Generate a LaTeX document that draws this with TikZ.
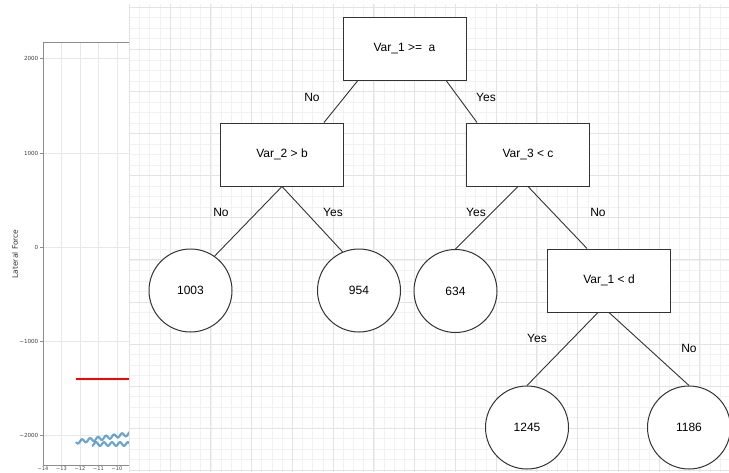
\documentclass[tikz,border=0pt]{standalone}
\usepackage{fontspec}
\setmainfont{Liberation Sans}
\newfontfamily\plotfont{DejaVu Sans}
\usepackage{xcolor}
\usetikzlibrary{positioning,calc}
\definecolor{edgegray}{HTML}{333333}
\definecolor{mplblue}{HTML}{1F77B4}

\begin{document}
\begin{tikzpicture}[
  x=1pt, y=-1pt,
  box/.style={draw=edgegray, line width=1pt, fill=white, minimum width=123pt, minimum height=63pt, font=\fontsize{12}{14}\selectfont},
  leaf/.style={draw=edgegray, line width=1pt, fill=white, circle, minimum size=83pt, inner sep=0pt, font=\fontsize{12}{14}\selectfont},
  branch/.style={draw=edgegray, line width=0.9pt},
  lbl/.style={inner sep=0pt, font=\fontsize{12}{14}\selectfont},
  minorgrid/.style={draw=black!5, line width=0.6pt},
  majorgrid/.style={draw=black!11, line width=0.7pt},
  axisgrid/.style={draw=black!9, line width=0.6pt},
  spine/.style={draw=black!45, line width=0.7pt},
  ticklbl/.style={font=\plotfont\fontsize{5.6}{6}\selectfont, text=black!75, inner sep=1pt}
]
\useasboundingbox (0,0) rectangle (729,472);

\foreach \gx in {43,61.5,80,98.5,117} \draw[axisgrid] (\gx,42) -- (\gx,465);
\foreach \gy in {58,153,247,341,435} \draw[axisgrid] (43,\gy) -- (130,\gy);
\draw[spine] (130,42) -- (43,42) -- (43,465) -- (130,465);
\foreach \gy/\t [count=\i] in {58/2000,153/1000,247/0,341/−1000,435/−2000} {
  \draw[spine] (43,\gy) -- (40,\gy);
  \node[ticklbl, anchor=east] (ytick\i) at (39.5,\gy) {\t};
}
\foreach \gx/\t [count=\i] in {43/−14,61.5/−13,80/−12,98.5/−11,117/−10} {
  \node[ticklbl, inner sep=0pt, font=\plotfont\fontsize{5}{5}\selectfont, anchor=north] (xtick\i) at (\gx,466.2) {\t};
}
\node[font=\plotfont\fontsize{7.5}{8}\selectfont, text=black!80, rotate=90] (ylabel) at (15,254) {Lateral Force};
\draw[red, line width=2.4pt] (76,379) -- (130,379);
\draw[mplblue, opacity=0.65, line width=2.2pt] plot[domain=76:130, samples=110, smooth] (\x,{442-(\x-76)*0.15+1.8*sin(45*(\x-76))});
\draw[mplblue, opacity=0.65, line width=2.2pt] plot[domain=92:130, samples=80, smooth] (\x,{444+1.8*sin(45*(\x-92)+90)});

\fill[white] (130,4) rectangle (729,472);
\foreach \k in {0,...,58} \draw[minorgrid] ({129.3+10.19*\k},4) -- ++(0,468);
\foreach \k in {0,...,44} \draw[minorgrid] (130,{7.2+10.525*\k}) -- ++(599,0);
\foreach \k in {0,...,14} \draw[majorgrid] ({129.3+40.75*\k},4) -- ++(0,468);
\foreach \k in {0,...,11} \draw[majorgrid] (130,{7.2+42.1*\k}) -- ++(599,0);

\node[box] (root) at (404.5,49) {Var\_1 >=\ \ a};
\node[box] (cond2) at (282,154.5) {Var\_2 > b};
\node[box, right=122pt of cond2] (cond3) {Var\_3 < c};
\node[box] (cond4) at (609,280.5) {Var\_1 < d};
\node[leaf] (n1003) at (190.5,290.5) {1003};
\node[leaf] (n954) at (359,290.5) {954};
\node[leaf] (n634) at (455.5,291) {634};
\node[leaf] (n1245) at (527,427.5) {1245};
\node[leaf] (n1186) at (689,427.5) {1186};

\draw[branch] ([xshift=15pt]root.south west) -- ([xshift=-20pt]cond2.north east);
\draw[branch] ([xshift=-20pt]root.south east) -- ([xshift=11pt]cond3.north west);
\draw[branch] (cond2.south) -- (n1003.55);
\draw[branch] (cond2.south) -- (n954.113);
\draw[branch] ([xshift=-10pt]cond3.south) -- (n634.north);
\draw[branch] (cond3.south) -- ([xshift=-22pt]cond4.north);
\draw[branch] ([xshift=-11pt]cond4.south) -- (n1245.north);
\draw[branch] (cond4.south) -- (n1186.north);

\node[lbl] (no1) at (312,97) {No};
\node[lbl] (yes1) at (486,97) {Yes};
\node[lbl] (no2) at (221,212) {No};
\node[lbl] (yes2) at (333,212) {Yes};
\node[lbl] (yes3) at (476,212) {Yes};
\node[lbl] (no3) at (598,212) {No};
\node[lbl] (yes4) at (537,338) {Yes};
\node[lbl] (no4) at (689,348) {No};
\end{tikzpicture}
\end{document}
